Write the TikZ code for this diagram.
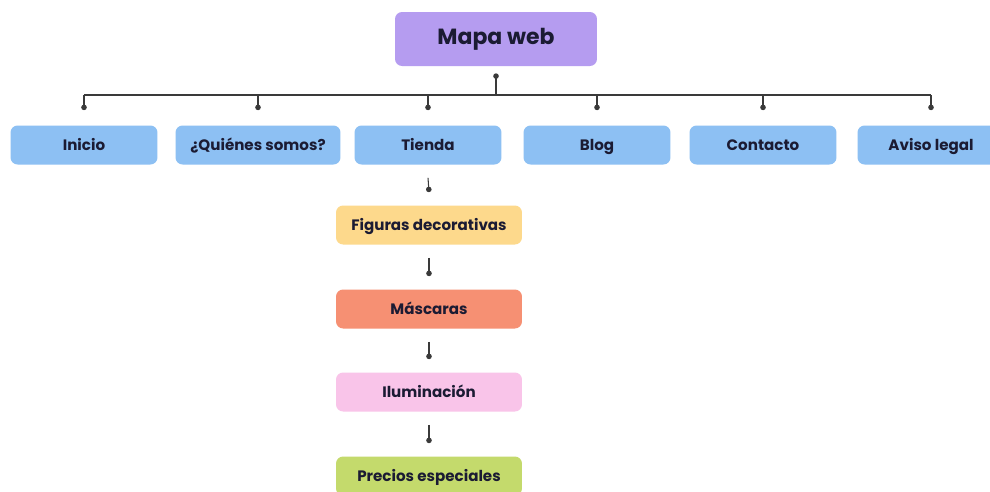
\documentclass[tikz,border=0pt]{standalone}
\usepackage{fontspec}
\setmainfont{Poppins}
\usepackage{xcolor}
\usepackage{tikz}
\usetikzlibrary{arrows.meta,positioning,calc}
\definecolor{morado}{HTML}{B59CF0}
\definecolor{azul}{HTML}{8DC0F3}
\definecolor{amarillo}{HTML}{FDD98C}
\definecolor{salmon}{HTML}{F69073}
\definecolor{rosa}{HTML}{F9C4E9}
\definecolor{verde}{HTML}{C4DA6C}
\definecolor{texto}{HTML}{1B1B33}
\definecolor{linea}{HTML}{3A3A3A}
\tikzset{
  caja/.style={rounded corners=4pt,align=center,text=texto,font=\fontsize{8.6}{10}\selectfont\bfseries,inner sep=3pt,minimum height=7.8mm,text height=1.6ex,text depth=0.45ex},
  cajaraiz/.style={caja,fill=morado,minimum width=40.4mm,minimum height=10.8mm,font=\fontsize{12.5}{14}\selectfont\bfseries},
  cajaazul/.style={caja,fill=azul,minimum width=29.4mm},
  cajahija/.style={caja,minimum width=37.2mm},
  conector/.style={linea,line width=0.6pt},
  punto/.style={conector,-{Circle[length=1.1mm]}},
}

\begin{document}
\begin{tikzpicture}[x=0.02cm,y=-0.02cm]
  \clip (0,0) rectangle (990,491);
  \fill[white] (0,0) rectangle (990,491);
  % raiz
  \node[cajaraiz] (mapa) at (496,39) {Mapa web};
  % primer nivel
  \node[cajaazul] (inicio) at (84,145) {Inicio};
  \node[cajaazul,minimum width=33mm] (quienes) at (258,145) {¿Quiénes somos?};
  \node[cajaazul] (tienda) at (428,145) {Tienda};
  \node[cajaazul] (blog) at (597,145) {Blog};
  \node[cajaazul] (contacto) at (763,145) {Contacto};
  \node[cajaazul] (aviso) at (931,145) {Aviso legal};
  % tienda
  \node[cajahija,fill=amarillo] (figuras) at (429,225) {Figuras decorativas};
  \node[cajahija,fill=salmon] (mascaras) at (429,309) {Máscaras};
  \node[cajahija,fill=rosa] (ilum) at (429,392) {Iluminación};
  \node[cajahija,fill=verde] (precios) at (429,476) {Precios especiales};
  % conectores
  \coordinate (barra) at (496,95);
  \draw[conector,{Circle[length=1.1mm]}-] ([yshift=-0.14cm]mapa.south) -- (barra);
  \draw[conector] (barra -| inicio) -- (barra -| aviso);
  \foreach \n in {inicio,quienes,tienda,blog,contacto,aviso}
    \draw[punto] (barra -| \n) -- ([yshift=0.3cm]\n.north);
  \foreach \a/\b in {tienda/figuras,figuras/mascaras,mascaras/ilum,ilum/precios}
    \draw[punto] ([yshift=-0.26cm]\a.south) -- ([yshift=0.26cm]\b.north);
\end{tikzpicture}
\end{document}
